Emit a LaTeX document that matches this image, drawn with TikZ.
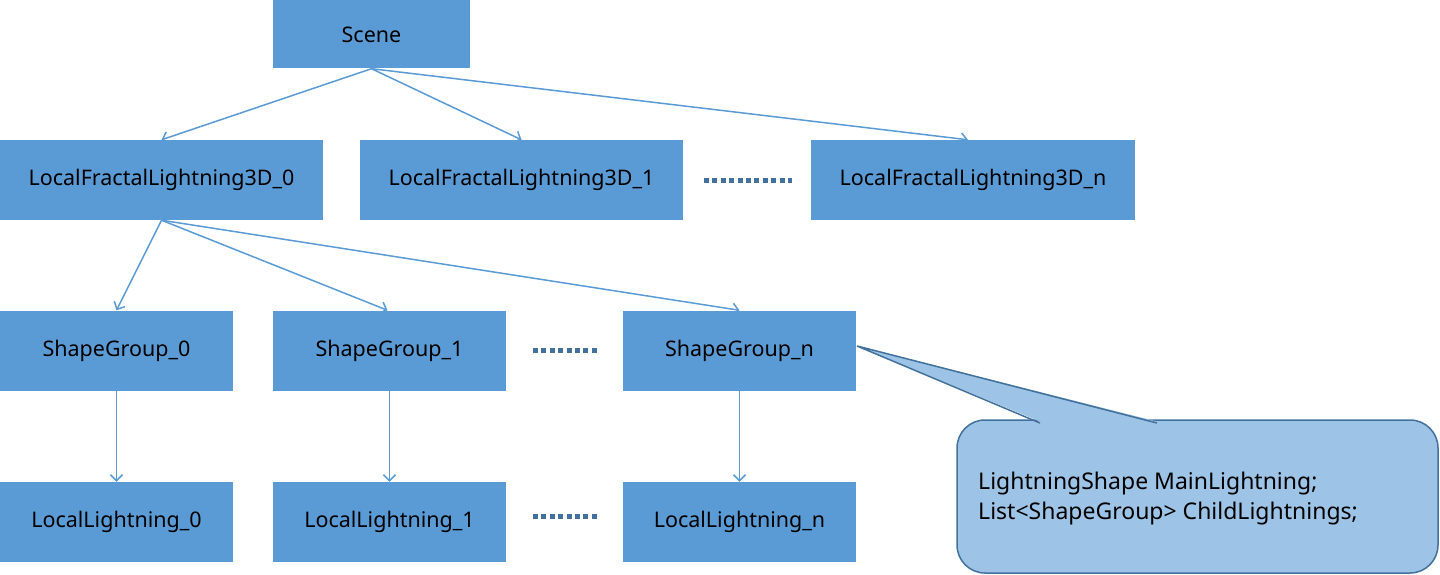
\documentclass[tikz,border=0pt]{standalone}
\usepackage{fontspec}
\setmainfont{Noto Sans}
\usetikzlibrary{
    arrows.meta,
    positioning
}
\definecolor{BoxBlue}{RGB}{91,155,213}
\definecolor{CalloutBlue}{RGB}{157,195,230}
\definecolor{EdgeBlue}{RGB}{65,113,156}

\begin{document}
\begin{tikzpicture}[
    x=1pt, y=-1pt,
    >={Straight Barb[length=6pt,width=12pt]},
    box/.style={fill=BoxBlue, minimum height=80pt, inner sep=0pt,
        font=\fontsize{21.5}{24}\selectfont},
    wide/.style={box, minimum width=323pt},
    narrow/.style={box, minimum width=233pt},
    link/.style={->, BoxBlue, line width=1.5pt},
    dots/.style={EdgeBlue, line width=5pt, dash pattern=on 5pt off 3.4pt}
]

\useasboundingbox (0,0) rectangle (1440,575);

% top level
\node[box, minimum width=197pt, minimum height=68pt] (scene) at (371.5,34.5) {Scene};

% fractal lightnings
\node[wide] (lfl0) at (161.5,180) {LocalFractalLightning3D\_0};
\node[wide] (lfl1) at (521.5,180) {LocalFractalLightning3D\_1};
\node[wide, minimum width=324pt] (lfln) at (973,180) {LocalFractalLightning3D\_n};

% shape groups
\node[narrow] (sg0) at (116.5,350.5) {ShapeGroup\_0};
\node[narrow] (sg1) at (389.5,350.5) {ShapeGroup\_1};
\node[narrow] (sgn) at (739.5,350.5) {ShapeGroup\_n};

% lightnings
\node[narrow] (ll0) at (116.5,522) {LocalLightning\_0};
\node[narrow] (ll1) at (389.5,522) {LocalLightning\_1};
\node[narrow] (lln) at (739.5,522) {LocalLightning\_n};

% dotted gaps
\coordinate (d1a) at (704,180);
\coordinate (d1b) at (792,180);
\coordinate (d2a) at (533,350);
\coordinate (d2b) at (600,350);
\coordinate (d3a) at (533,516);
\coordinate (d3b) at (600,516);
\draw[dots] (d1a) -- (d1b);
\draw[dots] (d2a) -- (d2b);
\draw[dots] (d3a) -- (d3b);

% links
\draw[link] (scene.south) -- (lfl0.north);
\draw[link] (scene.south) -- (lfl1.north);
\draw[link] (scene.south) -- ([xshift=-5pt]lfln.north);

\draw[link] (lfl0.south) -- (sg0.north);
\draw[link] (lfl0.south) -- ([xshift=-2pt]sg1.north);
\draw[link] (lfl0.south) -- (sgn.north);

\draw[link] (sg0) -- (ll0);
\draw[link] (sg1) -- (ll1);
\draw[link] (sgn) -- (lln);

% callout
\draw[fill=CalloutBlue, draw=EdgeBlue, line width=1.5pt, rounded corners=28pt]
    (957,420) rectangle (1438,573);
\coordinate (tip) at (857,346);
\coordinate (ta) at (1040,421.5);
\coordinate (tb) at (1157,421.5);
\fill[CalloutBlue] (ta) -- (tip) -- (tb) -- cycle;
\draw[EdgeBlue, line width=1.5pt, line join=miter]
    ([yshift=-1.5pt]ta) -- (tip) -- ([yshift=-1.5pt]tb);
\node[anchor=west, inner sep=0pt, align=left,
    font=\fontsize{23}{29.5}\selectfont] (note) at (978,498.5)
    {LightningShape MainLightning;\\List<ShapeGroup> ChildLightnings;};

\end{tikzpicture}
\end{document}
